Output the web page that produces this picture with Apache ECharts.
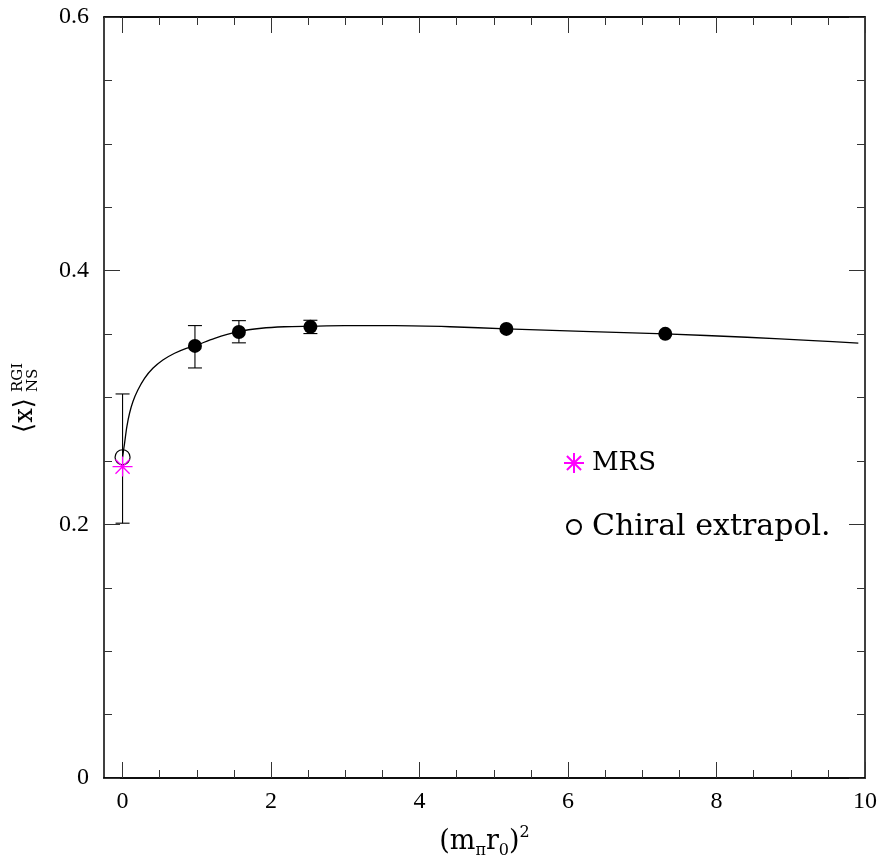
<!DOCTYPE html>
<html>
<head>
<meta charset="utf-8">
<script src="https://cdn.jsdelivr.net/npm/echarts@6/dist/echarts.min.js"></script>
<style>
  html, body { margin: 0; padding: 0; background: #fff; }
  #chart { width: 880px; height: 858px; }
</style>
</head>
<body>
<div id="chart"></div>
<script>
// Lattice results: (m_pi r0)^2 against <x>_NS, with error ranges where visible
const latticeX = [0.975, 1.567, 2.53, 5.17, 7.31];
const latticeY = [0.3407, 0.3517, 0.3557, 0.3541, 0.3502];
const latticeLo = [0.3233, 0.3431, 0.3504, null, null];
const latticeHi = [0.3567, 0.3606, 0.3609, null, null];

// Chiral extrapolation to the physical point
const chiralX = [0];
const chiralY = [0.2529];
const chiralLo = [0.2009];
const chiralHi = [0.3028];

// MRS phenomenological value
const mrsX = [0];
const mrsY = [0.2455];

// Chiral fit curve
const curveX = [0, 0.027, 0.058, 0.094, 0.139, 0.206, 0.296, 0.408, 0.543, 0.701, 0.858, 0.97,
                1.24, 1.56, 1.87, 2.18, 2.52, 2.99, 3.67, 4.41, 5.17, 6.20, 7.31, 8.41, 9.30, 9.91];
const curveY = [0.253, 0.2639, 0.277, 0.2876, 0.2967, 0.3059, 0.3151, 0.3230, 0.3296, 0.3349, 0.3388, 0.3406,
                0.3467, 0.3519, 0.3546, 0.3558, 0.3562, 0.3566, 0.3566, 0.3558, 0.3541, 0.3521, 0.3501, 0.3475, 0.3449, 0.3428];

// Axis ticks
const xMajorTicks = [0, 2, 4, 6, 8, 10];
const xMinorTicks = [0.5, 1, 1.5, 2.5, 3, 3.5, 4.5, 5, 5.5, 6.5, 7, 7.5, 8.5, 9, 9.5];
const xRange = [-0.25, 10];
const yRange = [0, 0.6];
const yStep = 0.2;

const zip = (...cols) => cols[0].map((_, i) => cols.map(c => c[i]));

const SERIF = '"DejaVu Serif", "Liberation Serif", serif';
const TICK_FONT = '"Liberation Serif", "DejaVu Serif", serif';
const frame = { show: true, onZero: false, lineStyle: { color: '#000', width: 1.5 } };
const tickStyle = { color: '#333', width: 1 };

function xAxisDef(grid, position, ticks, len, labels) {
  return {
    type: 'value', gridIndex: grid, position: position,
    min: xRange[0], max: xRange[1],
    axisLine: frame,
    splitLine: { show: false },
    axisTick: { show: true, inside: true, length: len, customValues: ticks, lineStyle: tickStyle },
    axisLabel: labels ? { show: true, customValues: ticks, margin: 12,
                          fontFamily: TICK_FONT, fontSize: 24, color: '#000' } : { show: false }
  };
}

function yAxisDef(position, labels) {
  return {
    type: 'value', gridIndex: 0, position: position,
    min: yRange[0], max: yRange[1], interval: yStep,
    axisLine: frame, splitLine: { show: false },
    axisTick: { show: true, inside: true, length: 16, lineStyle: tickStyle },
    minorTick: { show: true, splitNumber: 4, length: 8, lineStyle: tickStyle },
    axisLabel: labels ? { margin: 15, fontFamily: TICK_FONT, fontSize: 24, color: '#000' } : { show: false }
  };
}

function errorBars(params, api) {
  const x = api.value(0), lo = api.value(1), hi = api.value(2);
  if (lo == null || hi == null || isNaN(lo) || isNaN(hi)) return;
  const top = api.coord([x, hi]);
  const bot = api.coord([x, lo]);
  const hw = 7;
  const st = { stroke: '#000', lineWidth: 1.1 };
  return {
    type: 'group',
    children: [
      { type: 'line', shape: { x1: top[0], y1: top[1], x2: bot[0], y2: bot[1] }, style: st },
      { type: 'line', shape: { x1: top[0] - hw, y1: top[1], x2: top[0] + hw, y2: top[1] }, style: st },
      { type: 'line', shape: { x1: bot[0] - hw, y1: bot[1], x2: bot[0] + hw, y2: bot[1] }, style: st }
    ]
  };
}

const asterisk = 'path://M0,-10L0,10M-10,0L10,0M-7.07,-7.07L7.07,7.07M-7.07,7.07L7.07,-7.07';

const chart = echarts.init(document.getElementById('chart'), null, { renderer: 'canvas' });

const gridBox = { left: 104, right: 15, top: 17, bottom: 80, outerBoundsMode: 'none', containLabel: false };

chart.setOption({
  animation: false,
  backgroundColor: '#fff',
  grid: [Object.assign({}, gridBox), Object.assign({}, gridBox)],
  xAxis: [
    Object.assign(xAxisDef(0, 'bottom', xMajorTicks, 16, true), {
      name: '(m{sub|π}r{sub|0}){sup|2}',
      nameLocation: 'middle', nameGap: 47,
      nameTextStyle: {
        fontFamily: SERIF, fontSize: 27, color: '#000', lineHeight: 34,
        rich: {
          sub: { fontFamily: SERIF, fontSize: 16, verticalAlign: 'bottom', lineHeight: 34 },
          sup: { fontFamily: SERIF, fontSize: 16, verticalAlign: 'top', lineHeight: 34 }
        }
      }
    }),
    xAxisDef(0, 'top', xMajorTicks, 16, false),
    xAxisDef(1, 'bottom', xMinorTicks, 8, false),
    xAxisDef(1, 'top', xMinorTicks, 8, false)
  ],
  yAxis: [
    yAxisDef('left', true),
    yAxisDef('right', false),
    { type: 'value', gridIndex: 1, min: yRange[0], max: yRange[1], show: false }
  ],
  legend: [
    {
      data: ['MRS'], orient: 'vertical', left: 558, top: 445,
      itemWidth: 20, itemHeight: 20, selectedMode: false,
      textStyle: { fontFamily: SERIF, fontSize: 26, color: '#000', padding: [0, 0, 0, 3] }
    },
    {
      data: ['Chiral extrapol.'], orient: 'vertical', left: 561, top: 507,
      itemWidth: 14, itemHeight: 14, selectedMode: false,
      textStyle: { fontFamily: SERIF, fontSize: 30, color: '#000', padding: [0, 0, 0, 6] }
    }
  ],
  graphic: [
    {
      type: 'group', x: 38, y: 433, rotation: Math.PI / 2,
      children: [
        { type: 'text', x: 0, y: 0,
          style: { text: '⟨x⟩', font: '26px ' + SERIF, fill: '#000',
                   textAlign: 'left', textVerticalAlign: 'bottom' } },
        { type: 'text', x: 41, y: -12,
          style: { text: 'RGI', font: '15px ' + SERIF, fill: '#000',
                   textAlign: 'left', textVerticalAlign: 'bottom' } },
        { type: 'text', x: 41, y: 3,
          style: { text: 'NS', font: '15px ' + SERIF, fill: '#000',
                   textAlign: 'left', textVerticalAlign: 'bottom' } }
      ]
    }
  ],
  series: [
    {
      name: 'fit', type: 'line', xAxisIndex: 0, yAxisIndex: 0,
      data: zip(curveX, curveY), symbol: 'none', smooth: 0.3,
      lineStyle: { color: '#000', width: 1.3 }, z: 2, silent: true
    },
    {
      name: 'lattice errors', type: 'custom', xAxisIndex: 0, yAxisIndex: 0,
      data: zip(latticeX, latticeLo, latticeHi), renderItem: errorBars, z: 3, silent: true
    },
    {
      name: 'chiral errors', type: 'custom', xAxisIndex: 0, yAxisIndex: 0,
      data: zip(chiralX, chiralLo, chiralHi), renderItem: errorBars, z: 3, silent: true
    },
    {
      name: 'lattice', type: 'scatter', xAxisIndex: 0, yAxisIndex: 0,
      data: zip(latticeX, latticeY), symbol: 'circle', symbolSize: 14,
      itemStyle: { color: '#000', opacity: 1 }, z: 5
    },
    {
      name: 'Chiral extrapol.', type: 'scatter', xAxisIndex: 0, yAxisIndex: 0,
      data: zip(chiralX, chiralY), symbol: 'circle', symbolSize: 15,
      itemStyle: { color: 'rgba(0,0,0,0)', borderColor: '#000', borderWidth: 1.2, opacity: 1 }, z: 5
    },
    {
      name: 'MRS', type: 'scatter', xAxisIndex: 0, yAxisIndex: 0,
      data: zip(mrsX, mrsY), symbol: asterisk, symbolSize: 20,
      itemStyle: { color: 'rgba(0,0,0,0)', borderColor: '#ff00ff', borderWidth: 1.3, opacity: 1 }, z: 6
    }
  ]
});
</script>
</body>
</html>
